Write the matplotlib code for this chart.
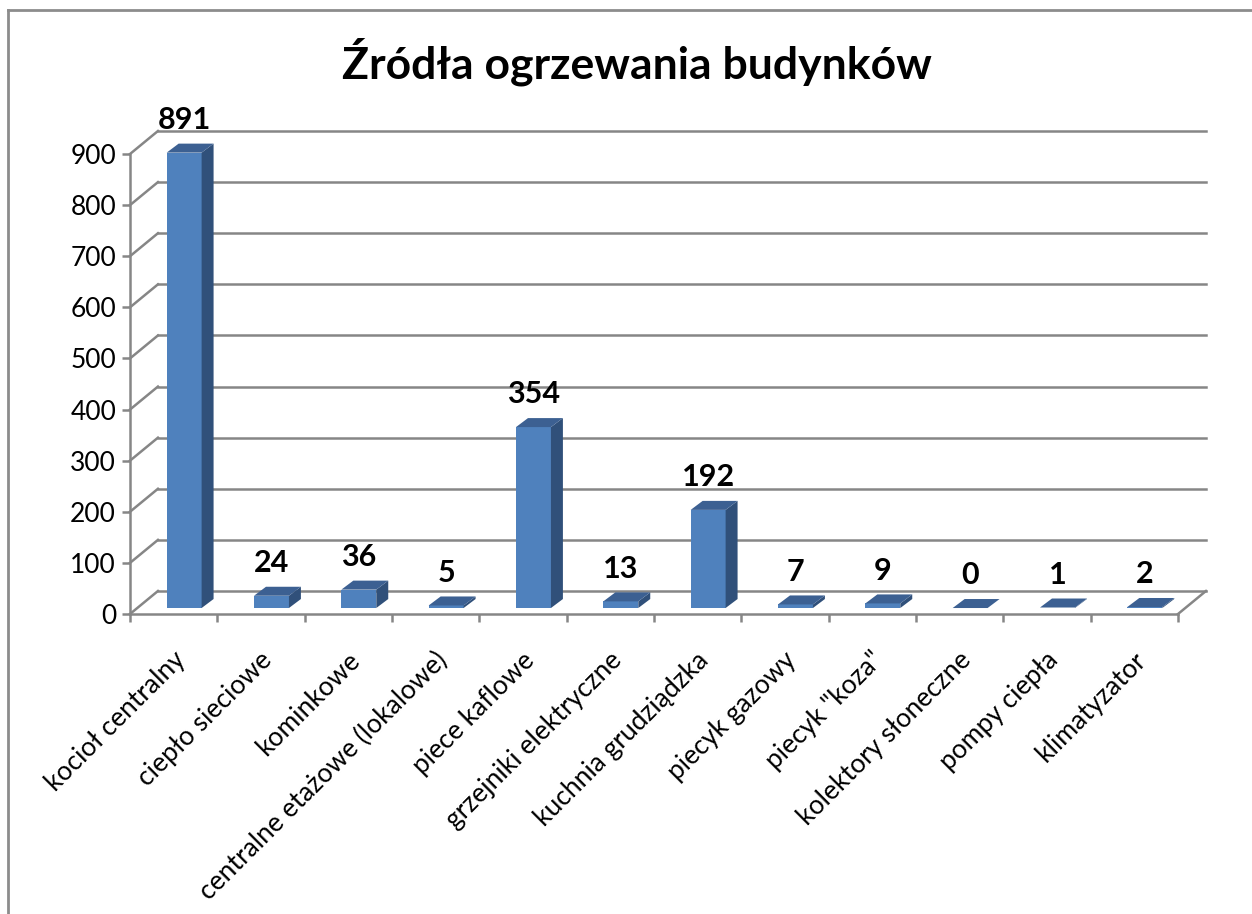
import matplotlib
matplotlib.use("Agg")
import matplotlib.pyplot as plt
from matplotlib.patches import Polygon, Rectangle
from matplotlib.lines import Line2D

plt.rcParams['font.family'] = ['Lato', 'DejaVu Sans']

# data
categories = ["kocioł centralny", "ciepło sieciowe", "kominkowe",
              "centralne etażowe (lokalowe)", "piece kaflowe",
              "grzejniki elektryczne", "kuchnia grudziądzka", "piecyk gazowy",
              'piecyk "koza"', "kolektory słoneczne", "pompy ciepła",
              "klimatyzator"]
values = [891, 24, 36, 5, 354, 13, 192, 7, 9, 0, 1, 2]
y_ticks = list(range(0, 1000, 100))
title = "Źródła ogrzewania budynków"

# fake 3d look (in data units)
wall_dx, wall_dy = 0.32, 45      # depth of the back wall
bar_dy0 = 11.7                   # bars sit a bit behind the front plane
bar_dx, bar_dy = 0.137, 17.6     # bar depth
bar_left, bar_w = 0.42, 0.40

grid_c = "#868686"
front_c, side_c, top_c = "#4F81BD", "#30507A", "#3C6092"

fig = plt.figure(figsize=(12.52, 9.14), dpi=100)
ax = fig.add_axes([130 / 1252, 300 / 914, 1048 / 1252, 460 / 914])
n = len(categories)
ax.set_xlim(0, n)
ax.set_ylim(0, 900)

# back wall grid + left wall diagonals
for v in y_ticks:
    ax.plot([wall_dx, n + wall_dx], [v + wall_dy, v + wall_dy], color=grid_c, lw=1.8, clip_on=False, zorder=1)
    ax.plot([0, wall_dx], [v, v + wall_dy], color=grid_c, lw=1.8, clip_on=False, zorder=1)
# floor right edge
ax.plot([n, n + wall_dx], [0, wall_dy], color=grid_c, lw=1.8, clip_on=False, zorder=1)

# bars
for i, v in enumerate(values):
    x0 = i + bar_left
    y0 = bar_dy0
    ax.add_patch(Rectangle((x0, y0), bar_w, v, facecolor=front_c, edgecolor="none", zorder=3, clip_on=False))
    side = [(x0 + bar_w, y0), (x0 + bar_w + bar_dx, y0 + bar_dy),
            (x0 + bar_w + bar_dx, y0 + v + bar_dy), (x0 + bar_w, y0 + v)]
    ax.add_patch(Polygon(side, closed=True, facecolor=side_c, edgecolor="none", zorder=3, clip_on=False))
    top = [(x0, y0 + v), (x0 + bar_w, y0 + v),
           (x0 + bar_w + bar_dx, y0 + v + bar_dy), (x0 + bar_dx, y0 + v + bar_dy)]
    ax.add_patch(Polygon(top, closed=True, facecolor=top_c, edgecolor="none", zorder=4, clip_on=False))
    ax.annotate(str(v), (x0 + bar_w / 2, y0 + v + bar_dy), xytext=(0, 17),
                textcoords="offset points", ha="center", va="center",
                fontsize=22, fontweight="bold", zorder=5, annotation_clip=False)

# axes
for s in ["top", "right"]:
    ax.spines[s].set_visible(False)
for s in ["left", "bottom"]:
    ax.spines[s].set_color(grid_c)
    ax.spines[s].set_linewidth(1.8)
ax.set_yticks(y_ticks)
ax.set_xticks(range(n + 1))
ax.set_xticklabels([])
ax.tick_params(axis="both", direction="out", length=6, width=1.8, color=grid_c, labelsize=19, pad=4)
ax.patch.set_alpha(0)

for i, lab in enumerate(categories):
    ax.annotate(lab, (i + 0.5, 0), xytext=(-1, -24), textcoords="offset points",
                ha="right", va="top", rotation=45, rotation_mode="anchor",
                fontsize=19, annotation_clip=False)

fig.text(637 / 1252, 1 - 62 / 914, title, ha="center", va="center", fontsize=32, fontweight="bold")

# chart frame (top and left only visible)
fig.add_artist(Line2D([8 / 1252, 1.0], [1 - 10 / 914, 1 - 10 / 914], color="#8c8c8c", lw=2))
fig.add_artist(Line2D([8 / 1252, 8 / 1252], [0, 1 - 10 / 914], color="#8c8c8c", lw=2))

fig.savefig("out.png", dpi=100)
